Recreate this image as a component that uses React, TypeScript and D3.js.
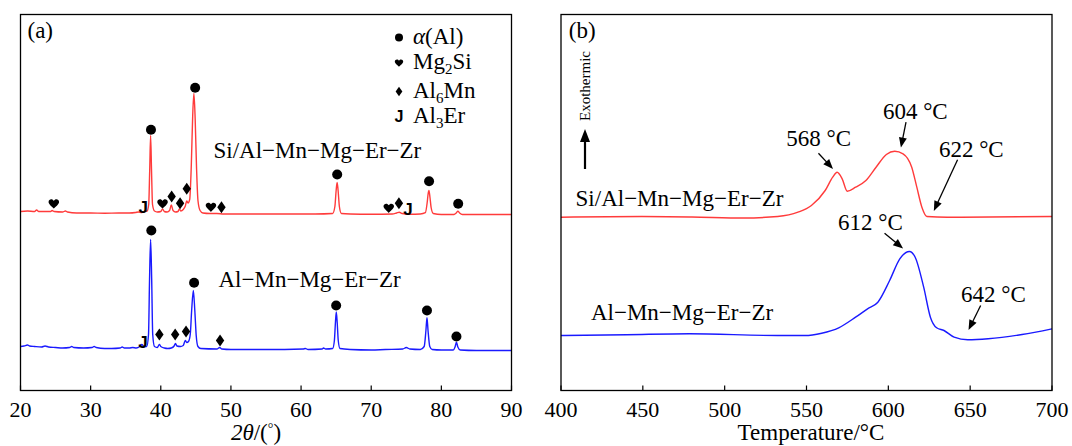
import React from "react";
import * as d3 from "d3";

// ---------- Data ----------
const xrdTicks = [20, 30, 40, 50, 60, 70, 80, 90];
const dscTicks = [400, 450, 500, 550, 600, 650, 700];

// XRD pattern, Si/Al-Mn-Mg-Er-Zr (2θ, intensity a.u. incl. offset)
const xrdRed: [number, number][] = [
  [20, 179], [21, 179.5], [22, 179], [22.3, 180.5], [22.6, 179], [23.5, 179], [24.3, 179], [24.5, 180],
  [24.8, 179], [26, 178.5], [26.4, 179.5], [26.7, 178.5], [28, 177.5], [30, 177.5], [32, 177.3],
  [34, 177.5], [35.5, 177.5], [36.4, 178], [36.8, 178.5], [37.3, 178], [37.7, 179], [38.05, 179.5],
  [38.28, 186], [38.42, 220], [38.55, 255], [38.68, 220], [38.82, 186], [39.1, 179.5], [39.5, 178.5],
  [40.0, 179], [40.25, 181.5], [40.5, 179], [40.9, 178.5], [41.25, 180], [41.5, 185.5], [41.75, 180],
  [42.1, 178.5], [42.45, 179], [42.65, 181.5], [42.85, 179.5], [43.2, 181], [43.5, 184.5], [43.7, 189.5],
  [43.88, 187.5], [44.12, 191], [44.35, 225], [44.55, 275], [44.72, 297], [44.9, 272], [45.1, 222],
  [45.3, 190], [45.6, 180], [46, 177.5], [47, 177], [48, 177], [49, 176.5], [52, 176.5], [55, 176.5],
  [58, 176.5], [62, 176.5], [64.5, 177], [64.82, 184], [65.0, 200], [65.14, 208], [65.28, 200],
  [65.46, 184], [65.75, 177], [67, 176.5], [70, 176.3], [73, 176.5], [73.6, 177.5], [74.0, 178.3],
  [74.4, 177], [75.5, 176.3], [77, 176.5], [77.72, 177.8], [77.98, 188], [78.12, 197], [78.23, 200],
  [78.38, 193], [78.54, 183], [78.85, 177], [80, 176], [81.8, 176], [82.12, 177.5], [82.36, 179.3],
  [82.6, 177.5], [83, 176], [86, 176], [90, 176],
];

// XRD pattern, Al-Mn-Mg-Er-Zr
const xrdBlue: [number, number][] = [
  [20, 44], [20.5, 44.5], [21, 45.5], [21.3, 44.5], [22, 44], [23, 43.5], [23.5, 44.5], [24, 43.5],
  [25, 43], [26, 42.5], [27, 43], [27.3, 44], [27.6, 43], [29, 42.5], [30.2, 43], [30.5, 44], [30.8, 43],
  [32, 42], [33, 42], [34.2, 42.5], [34.5, 43.5], [34.8, 42.5], [35.5, 42.5], [36, 43], [36.5, 42.5],
  [37, 44], [37.3, 46], [37.6, 44], [38.0, 44], [38.25, 56], [38.4, 112], [38.55, 151], [38.7, 112],
  [38.85, 56], [39.1, 44], [39.5, 43], [39.8, 46], [40.0, 44], [40.5, 42.5], [41, 42], [41.5, 42.5],
  [41.9, 44.5], [42.1, 47], [42.3, 44.5], [42.8, 44], [43.2, 45], [43.5, 50], [43.7, 48], [43.95, 49],
  [44.2, 56], [44.4, 80], [44.64, 100], [44.85, 80], [45.05, 55], [45.3, 44], [45.7, 42], [48, 41.5],
  [48.4, 43], [48.7, 41.5], [50, 41], [55, 41], [60.3, 41.5], [60.6, 42], [61, 41], [63, 41.5],
  [63.2, 42.5], [63.5, 41.5], [64.5, 42], [64.75, 50], [64.9, 68], [65.02, 78.5], [65.15, 68],
  [65.3, 50], [65.55, 42], [67, 41], [70, 40.5], [72, 41], [74.5, 41.5], [75, 43], [75.5, 41.5],
  [77, 41], [77.55, 44], [77.8, 60], [77.95, 72.7], [78.1, 60], [78.35, 44], [78.7, 41], [80, 40.5],
  [81.7, 40.5], [81.95, 43.5], [82.15, 48.3], [82.35, 43.5], [82.7, 40.5], [85, 40], [90, 40],
];

// phase markers: [phase, 2θ, height]
const markersRed: [string, number, number][] = [
  ["heart", 24.75, 186.7], ["J", 37.5, 183.3], ["circle", 38.6, 260.7], ["heart", 40.25, 186.7],
  ["diamond", 41.55, 194], ["diamond", 42.75, 187.3], ["diamond", 43.7, 201.7], ["circle", 44.9, 302.7],
  ["heart", 47.15, 183.3], ["diamond", 48.65, 183.3], ["circle", 65.15, 216], ["heart", 72.5, 182.3],
  ["diamond", 73.95, 187.3], ["J", 75.25, 181.7], ["circle", 78.25, 209.3], ["circle", 82.4, 186.7],
];
const markersBlue: [string, number, number][] = [
  ["J", 37.45, 48.3], ["circle", 38.65, 160], ["diamond", 39.8, 56], ["diamond", 42.05, 56],
  ["diamond", 43.6, 59], ["circle", 44.75, 107.7], ["diamond", 48.45, 50], ["circle", 65.0, 85],
  ["circle", 77.95, 80], ["circle", 82.15, 54],
];

const legendPhases = ["circle", "heart", "diamond", "J"];

// DSC curves (temperature °C, heat flow a.u. incl. offset)
const dscRed: [number, number][] = [
  [400, 173.3], [449.4, 174], [480, 173.5], [511.6, 172.5], [532.4, 174], [544.8, 178.3], [553, 185],
  [561.4, 200], [566, 213.3], [568.7, 218.3], [571.8, 211.7], [574.9, 199.3], [580, 203.3], [586.3, 210],
  [592.5, 223.3], [598.8, 236], [603.9, 239.3], [609, 236.7], [614.3, 223.3], [617.4, 203.3],
  [620.5, 183.3], [623.6, 174], [636, 173.3], [700, 174],
];
const dscBlue: [number, number][] = [
  [400, 55], [440, 55.8], [478.4, 56.7], [532.4, 55], [549, 55], [559.3, 57.3], [569.7, 62.7],
  [580, 73.3], [587.3, 81.7], [593.6, 88.3], [600.8, 110], [607, 131.7], [612.9, 139], [616.4, 133.3],
  [621.6, 103.3], [625.7, 73.3], [629.5, 62.7], [634, 60], [640.2, 53.3], [648.5, 50.7], [661, 51.7],
  [681.7, 56], [700, 61.7],
];

const dscPeakLabels = ["568 °C", "604 °C", "622 °C", "612 °C", "642 °C"];

// ---------- Drawing helpers ----------
const SERIF = "'Liberation Serif', 'Times New Roman', Times, serif";
const SANS = "'Liberation Sans', Arial, sans-serif";

function Marker({ type, x, y, s = 1 }: { type: string; x: number; y: number; s?: number }) {
  if (type === "circle") return <circle cx={x} cy={y} r={5 * s} fill="#000" />;
  if (type === "diamond")
    return (
      <path
        d={`M${x},${y - 6 * s}L${x + 4.2 * s},${y}L${x},${y + 6 * s}L${x - 4.2 * s},${y}Z`}
        fill="#000"
      />
    );
  if (type === "heart") {
    const k = 10.5 * s;
    const p = (a: number, b: number) => `${x + a * k},${y + b * k}`;
    return (
      <path
        d={`M${p(0, 0.45)}C${p(-0.12, 0.3)} ${p(-0.5, 0.05)} ${p(-0.5, -0.18)}C${p(-0.5, -0.45)} ${p(
          -0.12,
          -0.52
        )} ${p(0, -0.27)}C${p(0.12, -0.52)} ${p(0.5, -0.45)} ${p(0.5, -0.18)}C${p(0.5, 0.05)} ${p(
          0.12,
          0.3
        )} ${p(0, 0.45)}Z`}
        fill="#000"
      />
    );
  }
  return (
    <text x={x} y={y + 6 * s} fontFamily={SANS} fontWeight="bold" fontSize={17 * s} textAnchor="middle" fill="#000">
      J
    </text>
  );
}

function Arrow({
  x1,
  y1,
  x2,
  y2,
  w = 1.2,
  hl = 9,
  hw = 3.6,
}: {
  x1: number;
  y1: number;
  x2: number;
  y2: number;
  w?: number;
  hl?: number;
  hw?: number;
}) {
  const dx = x2 - x1,
    dy = y2 - y1;
  const L = Math.hypot(dx, dy);
  const ux = dx / L,
    uy = dy / L;
  const bx = x2 - ux * hl,
    by = y2 - uy * hl;
  return (
    <g>
      <line x1={x1} y1={y1} x2={bx + ux * 1} y2={by + uy * 1} stroke="#000" strokeWidth={w} />
      <path
        d={`M${x2},${y2}L${bx - uy * hw},${by + ux * hw}L${bx + uy * hw},${by - ux * hw}Z`}
        fill="#000"
      />
    </g>
  );
}

export default function App() {
  const top = 14.5,
    bottom = 390.5;
  const xA = d3.scaleLinear().domain([20, 90]).range([20.5, 511.5]);
  const xB = d3.scaleLinear().domain([400, 700]).range([561, 1052]);
  const y = d3.scaleLinear().domain([0, 376]).range([bottom, top]);

  const lineA = d3
    .line<[number, number]>()
    .x((d) => xA(d[0]))
    .y((d) => y(d[1]))
    .curve(d3.curveMonotoneX);
  const lineB = d3
    .line<[number, number]>()
    .x((d) => xB(d[0]))
    .y((d) => y(d[1]))
    .curve(d3.curveMonotoneX);

  const red = "#ff3b3b";
  const blue = "#1a1aff";
  const fs = 23;
  const tfs = 22;

  // annotation anchors (data units)
  const ann = [
    { tx: 537.6, tv: 245, a: [557.3, 237.3, 566.2, 221.5] },
    { tx: 596.7, tv: 272, a: [610.8, 268.3, 607.7, 243] },
    { tx: 630.9, tv: 233.3, a: [642.3, 230.7, 627.8, 179.5] },
    { tx: 569.3, tv: 161, a: [597.7, 157.3, 609, 142] },
    { tx: 644.4, tv: 89, a: [656.4, 85, 649, 60.5] },
  ];

  return (
    <svg
      width={1072}
      height={446}
      viewBox="0 0 1072 446"
      style={{ position: "absolute", left: 0, top: 0, background: "#fff" }}
    >
      <rect x={0} y={0} width={1072} height={446} fill="#fff" />
      {/* ---------- Panel (a) ---------- */}
      <g>
        <path d={lineA(xrdRed) || ""} fill="none" stroke={red} strokeWidth={1.4} />
        <path d={lineA(xrdBlue) || ""} fill="none" stroke={blue} strokeWidth={1.4} />
        {markersRed.map((m, i) => (
          <Marker key={"r" + i} type={m[0]} x={xA(m[1])} y={y(m[2])} />
        ))}
        {markersBlue.map((m, i) => (
          <Marker key={"b" + i} type={m[0]} x={xA(m[1])} y={y(m[2])} />
        ))}
        <rect
          x={xA(20)}
          y={top}
          width={xA(90) - xA(20)}
          height={bottom - top}
          fill="none"
          stroke="#000"
          strokeWidth={1.3}
        />
        {xrdTicks.map((t) => (
          <g key={t}>
            <line x1={xA(t)} x2={xA(t)} y1={bottom} y2={bottom - 5} stroke="#000" strokeWidth={1.2} />
            <text x={xA(t)} y={417} fontFamily={SERIF} fontSize={tfs} textAnchor="middle">
              {t}
            </text>
          </g>
        ))}
        <text x={256} y={440} fontFamily={SERIF} fontSize={fs} textAnchor="middle">
          <tspan fontStyle="italic">2θ</tspan>
          <tspan>/(</tspan>
          <tspan fontSize={14} dy={-7}>
            °
          </tspan>
          <tspan dy={7}>)</tspan>
        </text>
        <text x={27.5} y={38} fontFamily={SERIF} fontSize={fs}>
          (a)
        </text>
        {/* legend */}
        {legendPhases.map((p, i) => {
          const cy = [37.5, 63, 91.5, 116.5][i];
          return <Marker key={p} type={p} x={399} y={cy} s={p === "J" ? 0.95 : 0.8} />;
        })}
        <text x={413} y={44} fontFamily={SERIF} fontSize={fs}>
          <tspan fontStyle="italic">α</tspan>(Al)
        </text>
        <text x={413} y={69} fontFamily={SERIF} fontSize={fs}>
          Mg<tspan fontSize={15} dy={5}>2</tspan>
          <tspan dy={-5}>Si</tspan>
        </text>
        <text x={413} y={98} fontFamily={SERIF} fontSize={fs}>
          Al<tspan fontSize={15} dy={5}>6</tspan>
          <tspan dy={-5}>Mn</tspan>
        </text>
        <text x={413} y={123} fontFamily={SERIF} fontSize={fs}>
          Al<tspan fontSize={15} dy={5}>3</tspan>
          <tspan dy={-5}>Er</tspan>
        </text>
        <text x={213.5} y={158} fontFamily={SERIF} fontSize={fs}>
          Si/Al−Mn−Mg−Er−Zr
        </text>
        <text x={218.5} y={287} fontFamily={SERIF} fontSize={fs}>
          Al−Mn−Mg−Er−Zr
        </text>
      </g>

      {/* ---------- Panel (b) ---------- */}
      <g>
        <path d={lineB(dscRed) || ""} fill="none" stroke={red} strokeWidth={1.4} />
        <path d={lineB(dscBlue) || ""} fill="none" stroke={blue} strokeWidth={1.4} />
        <rect
          x={xB(400)}
          y={top}
          width={xB(700) - xB(400)}
          height={bottom - top}
          fill="none"
          stroke="#000"
          strokeWidth={1.3}
        />
        {dscTicks.map((t) => (
          <g key={t}>
            <line x1={xB(t)} x2={xB(t)} y1={bottom} y2={bottom - 5} stroke="#000" strokeWidth={1.2} />
            <text x={xB(t)} y={417} fontFamily={SERIF} fontSize={tfs} textAnchor="middle">
              {t}
            </text>
          </g>
        ))}
        <text x={811} y={440} fontFamily={SERIF} fontSize={fs} textAnchor="middle">
          Temperature/°C
        </text>
        <text x={xB(404.8)} y={38} fontFamily={SERIF} fontSize={fs}>
          (b)
        </text>
        <text
          x={590}
          y={86}
          transform="rotate(-90 590 86)"
          fontFamily={SERIF}
          fontSize={15}
          textAnchor="middle"
        >
          Exothermic
        </text>
        <Arrow x1={585} y1={169} x2={585} y2={129} w={2.2} hl={13} hw={5} />
        <text x={xB(408.9)} y={y(185)} fontFamily={SERIF} fontSize={fs}>
          Si/Al−Mn−Mg−Er−Zr
        </text>
        <text x={xB(418.3)} y={y(70.7)} fontFamily={SERIF} fontSize={fs}>
          Al−Mn−Mg−Er−Zr
        </text>
        {ann.map((a, i) => (
          <g key={i}>
            <text x={xB(a.tx)} y={y(a.tv)} fontFamily={SERIF} fontSize={fs}>
              {dscPeakLabels[i]}
            </text>
            <Arrow x1={xB(a.a[0])} y1={y(a.a[1])} x2={xB(a.a[2])} y2={y(a.a[3])} w={1.3} hl={10} hw={4} />
          </g>
        ))}
      </g>
    </svg>
  );
}
